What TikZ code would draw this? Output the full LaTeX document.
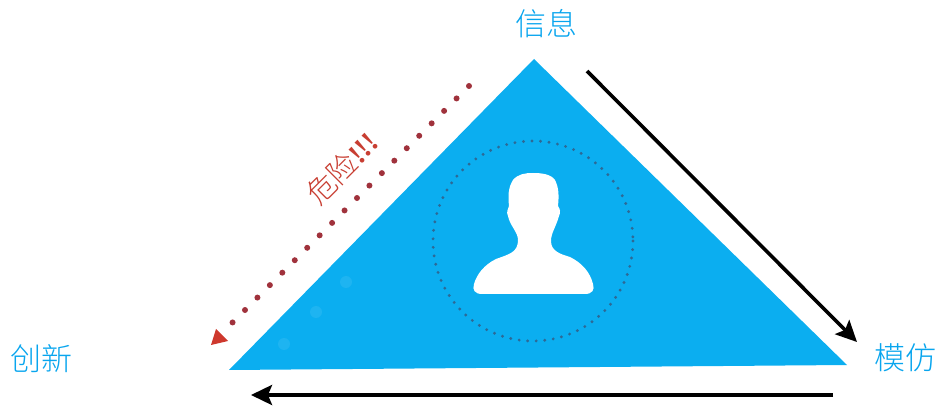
\documentclass[tikz,border=0pt]{standalone}
\usepackage{fontspec}
\setmainfont{Liberation Serif}
\newfontfamily\cjk{Noto Sans CJK SC Light}
\usetikzlibrary{arrows.meta}
\definecolor{tri}{RGB}{11,174,240}
\definecolor{lab}{RGB}{8,165,238}
\definecolor{dang}{RGB}{200,62,50}
\definecolor{dotc}{RGB}{160,50,60}
\definecolor{cdot}{RGB}{45,105,150}
\tikzset{
 lbl/.style={font=\cjk\fontsize{31}{33}\selectfont,text=lab,inner sep=0pt},
 blackarrow/.style={line width=3.6pt,black,-{Stealth[length=21pt,width=20pt,inset=4pt]}},
 reddots/.style={dotc,line width=6pt,line cap=round,dash pattern=on 0pt off 17.6pt},
}
\begin{document}
\begin{tikzpicture}[x=1pt,y=-1pt,line join=round]
\useasboundingbox (0,0) rectangle (938,406);
\fill[tri] (534,59) -- (847,365) -- (229,370) -- cycle;
\foreach \p in {(284,344),(316,312),(346,282)} \fill[white,opacity=.08] \p circle (6);
\draw[cdot,line width=3.2pt,line cap=round,dash pattern=on 0pt off 8.55pt] (533,241) circle (100);
\fill[white] (482,294)
 .. controls (475,294) and (472,290) .. (474,284)
 .. controls (477,274) and (484,265) .. (496,259)
 .. controls (510,254) and (518,252) .. (518,240)
 .. controls (518,232) and (510,226) .. (508,216)
 .. controls (506,212) and (508,209) .. (509,206)
 .. controls (508,196) and (508,188) .. (513,180)
 .. controls (518,174) and (525,173) .. (533,173)
 .. controls (541,173) and (551,174) .. (555,180)
 .. controls (559,188) and (559,196) .. (558,206)
 .. controls (560,209) and (561,212) .. (559,216)
 .. controls (556,227) and (551,233) .. (551,241)
 .. controls (551,251) and (560,254) .. (570,257)
 .. controls (582,263) and (590,272) .. (593,284)
 .. controls (595,290) and (592,294) .. (585,294) -- cycle;
\node[lbl] (xinxi) at (546,24) {信息};
\node[lbl] (chuangxin) at (41,359) {创新};
\node[lbl] (mofang) at (905,358) {模仿};
\node[rotate=45,text=dang,inner sep=0pt,font=\fontsize{29}{30}\selectfont] (danger) at (342,168) {\cjk 危险\rmfamily\bfseries !!!};
\coordinate (a1) at (587,71);
\coordinate (a2) at (857,342);
\coordinate (b1) at (833,395);
\coordinate (b2) at (251,395);
\coordinate (c1) at (469,86);
\coordinate (c2) at (231.5,323.5);
\draw[blackarrow] (a1) -- (a2);
\draw[blackarrow] (b1) -- (b2);
\draw[reddots] (c1) -- (c2);
\fill[dang!90!red] (211,345) -- (216,329) -- (228,341) -- cycle;
\end{tikzpicture}
\end{document}
